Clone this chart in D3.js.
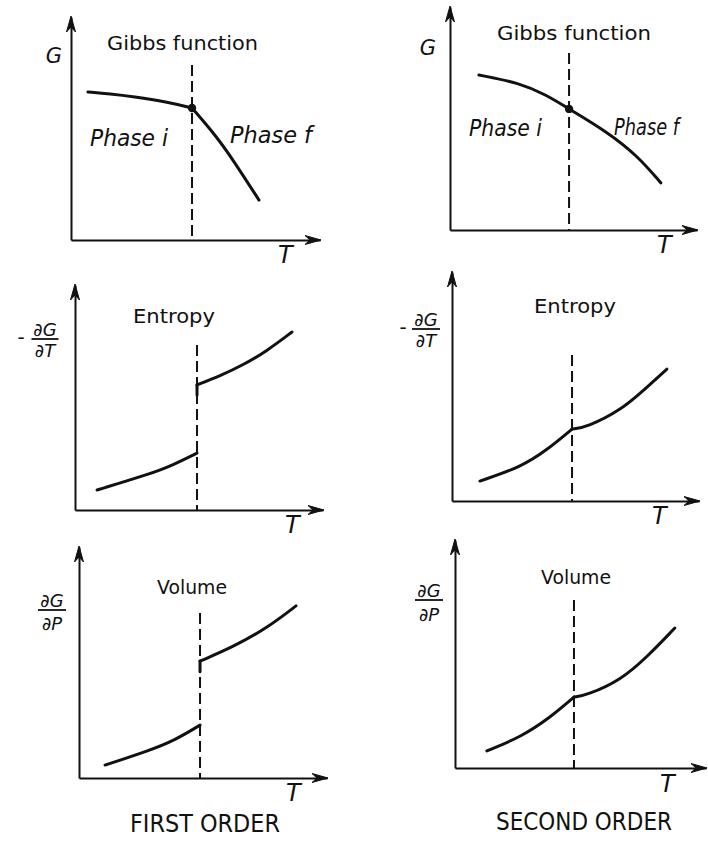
<!DOCTYPE html>
<html>
<head>
<meta charset="utf-8">
<script src="https://cdn.jsdelivr.net/npm/d3@7"></script>
<style>
  html, body { margin: 0; padding: 0; background: #fff; }
  svg { display: block; }
  text { font-family: "DejaVu Sans", sans-serif; fill: #111; }
</style>
</head>
<body>
<svg id="chart" width="708" height="841"></svg>
<script>
// ---------------- data (arbitrary units, 0–10 along each axis) ----------------
const columnLabels = ["FIRST ORDER", "SECOND ORDER"];
const panelTitles = ["Gibbs function", "Gibbs function", "Entropy", "Entropy", "Volume", "Volume"];
const phaseLabels = ["Phase i", "Phase f"];
const xLabel = "T";
// y-axis labels: [sign, numerator, denominator]; a single symbol when no fraction
const yLabels = [["", "G", ""], ["", "G", ""], ["-", "∂G", "∂T"], ["-", "∂G", "∂T"], ["", "∂G", "∂P"], ["", "∂G", "∂P"]];

// transition temperature and top of the dashed marker, per panel
const transitionT = [4.86, 4.82, 4.92, 4.86, 4.88, 4.74];
const transitionTop = [7.85, 7.94, 7.33, 6.38, 7.14, 7.37];

// Gibbs function
const gibbsFirstI  = [[0.68, 6.64], [1.57, 6.55], [2.49, 6.43], [3.86, 6.20], [4.86, 5.92]];
const gibbsFirstF  = [[4.86, 5.92], [5.86, 4.62], [6.51, 3.59], [7.55, 1.79]];
const gibbsSecondI = [[1.17, 6.95], [2.87, 6.58], [3.89, 6.06], [4.82, 5.43]];
const gibbsSecondF = [[4.82, 5.43], [6.36, 4.40], [7.57, 3.35], [8.54, 2.11]];

// entropy  -dG/dT
const entropyFirstI  = [[0.89, 0.89], [3.02, 1.60], [3.95, 2.00], [4.92, 2.53]];
const entropyFirstF  = [[4.92, 5.11], [4.92, 5.56], [5.85, 5.96], [6.77, 6.44], [7.74, 7.07], [8.75, 7.91]];
const entropySecondI = [[1.13, 0.87], [2.79, 1.48], [3.85, 2.23], [4.86, 3.14]];
const entropySecondF = [[4.86, 3.14], [5.47, 3.23], [6.84, 3.97], [7.77, 4.85], [8.70, 5.76]];

// volume  dG/dP
const volumeFirstI  = [[1.05, 0.56], [2.86, 1.20], [3.87, 1.64], [4.88, 2.29]];
const volumeFirstF  = [[4.88, 4.60], [4.88, 5.06], [6.21, 5.67], [7.58, 6.49], [8.75, 7.45]];
const volumeSecondI = [[1.27, 0.75], [2.63, 1.36], [3.82, 2.24], [4.74, 3.11]];
const volumeSecondF = [[4.74, 3.11], [5.26, 3.20], [6.61, 3.86], [7.65, 4.87], [8.76, 6.14]];

const branches = [
  [gibbsFirstI, gibbsFirstF], [gibbsSecondI, gibbsSecondF],
  [entropyFirstI, entropyFirstF], [entropySecondI, entropySecondF],
  [volumeFirstI, volumeFirstF], [volumeSecondI, volumeSecondF]
];

// ---------------- layout ----------------
// axis origin (x0,y0) and arrow tips (x1 along T, y1 along the property axis)
const frames = [
  { x0: 71,  y0: 240, x1: 320, y1: 17 },
  { x0: 450, y0: 230, x1: 697, y1: 7 },
  { x0: 75,  y0: 510, x1: 323, y1: 285 },
  { x0: 452, y0: 501, x1: 699, y1: 272 },
  { x0: 79,  y0: 778, x1: 327, y1: 547 },
  { x0: 455, y0: 768, x1: 706, y1: 540 }
];
const titlePos = [
  { x: 107, y: 50, w: 151 }, { x: 497, y: 40, w: 154 },
  { x: 133, y: 323, w: 82 }, { x: 534, y: 313, w: 82 },
  { x: 157, y: 594, w: 70 }, { x: 541, y: 584, w: 70 }
];
const phasePos = [
  [{ x: 90, y: 146, w: 78 }, { x: 230, y: 143, w: 82 }],
  [{ x: 469, y: 136, w: 73 }, { x: 614, y: 135, w: 65 }]
];
const tPos = [{ x: 278, y: 263 }, { x: 657, y: 253 }, { x: 285, y: 533 },
              { x: 652, y: 524 }, { x: 286, y: 801 }, { x: 660, y: 792 }];
// y label: centre x, numerator baseline, bar y, denominator baseline, sign x, bar width
const yLabPos = [
  { cx: 54, num: 63 }, { cx: 428, num: 55 },
  { cx: 45, num: 336, bar: 339, den: 357, sx: 21, bw: 27 },
  { cx: 426, num: 326, bar: 329, den: 347, sx: 403, bw: 28 },
  { cx: 52, num: 607, bar: 610, den: 630, bw: 28 },
  { cx: 429, num: 597, bar: 600, den: 621, bw: 28 }
];
const columnPos = [{ x: 130, y: 832, w: 150 }, { x: 496, y: 830, w: 176 }];

const svg = d3.select("#chart");
const ink = "#111";

function arrowHead(g, tipX, tipY, dir) {
  // barbed arrowhead; dir "right" or "up"
  const L = 16, W = 4.5, N = 11;
  const pts = dir === "right"
    ? [[tipX, tipY], [tipX - L, tipY - W], [tipX - N, tipY], [tipX - L, tipY + W]]
    : [[tipX, tipY], [tipX - W, tipY + L], [tipX, tipY + N], [tipX + W, tipY + L]];
  g.append("path").attr("d", d3.line()(pts) + "Z").attr("fill", ink).attr("stroke", ink)
    .attr("stroke-width", 1).attr("stroke-linejoin", "round");
}

function drawBranch(g, pts, x, y) {
  let start = 0;
  if (pts.length > 1 && pts[0][0] === pts[1][0]) {
    // vertical step where the curve meets the transition line
    g.append("path")
      .attr("d", d3.line().x(d => x(d[0])).y(d => y(d[1]))(pts.slice(0, 2)))
      .attr("fill", "none").attr("stroke", ink).attr("stroke-width", 3).attr("stroke-linecap", "round");
    start = 1;
  }
  g.append("path")
    .attr("d", d3.line().curve(d3.curveBasis).x(d => x(d[0])).y(d => y(d[1]))(pts.slice(start)))
    .attr("fill", "none").attr("stroke", ink).attr("stroke-width", 3)
    .attr("stroke-linecap", "round").attr("stroke-linejoin", "round");
}

frames.forEach((f, i) => {
  const g = svg.append("g");
  const x = d3.scaleLinear().domain([0, 10]).range([f.x0, f.x1]);
  const y = d3.scaleLinear().domain([0, 10]).range([f.y0, f.y1]);

  // axes (domain lines only) with arrowheads
  const ax = g.append("g").attr("transform", `translate(0,${f.y0})`)
    .call(d3.axisBottom(x).tickValues([]).tickSizeOuter(0));
  const ay = g.append("g").attr("transform", `translate(${f.x0},0)`)
    .call(d3.axisLeft(y).tickValues([]).tickSizeOuter(0));
  [ax, ay].forEach(a => a.select(".domain").attr("stroke", ink).attr("stroke-width", 2));
  arrowHead(g, x(10) + 1, y(0), "right");
  arrowHead(g, x(0), y(10) - 1, "up");

  // transition marker
  const tc = transitionT[i];
  g.append("line")
    .attr("x1", x(tc)).attr("x2", x(tc))
    .attr("y1", y(transitionTop[i])).attr("y2", y(0))
    .attr("stroke", ink).attr("stroke-width", 2).attr("stroke-dasharray", "11,5");

  // phase branches
  branches[i].forEach(b => drawBranch(g, b, x, y));

  // coexistence point on the Gibbs curves
  if (i < 2) {
    const p = branches[i][1][0];
    g.append("circle").attr("cx", x(p[0])).attr("cy", y(p[1])).attr("r", 4.2).attr("fill", ink);
  }

  // title
  const tp = titlePos[i];
  g.append("text").attr("x", tp.x).attr("y", tp.y).attr("font-size", 20)
    .attr("textLength", tp.w).attr("lengthAdjust", "spacingAndGlyphs").text(panelTitles[i]);

  // axis label T
  g.append("text").attr("x", tPos[i].x).attr("y", tPos[i].y).attr("font-size", 24)
    .attr("font-style", "italic").text(xLabel);

  // y label
  const yl = yLabels[i], lp = yLabPos[i];
  if (!yl[2]) {
    g.append("text").attr("x", lp.cx).attr("y", lp.num).attr("font-size", 21)
      .attr("font-style", "italic").attr("text-anchor", "middle").text(yl[1]);
  } else {
    if (yl[0]) {
      g.append("text").attr("x", lp.sx).attr("y", lp.bar + 5).attr("font-size", 20)
        .attr("text-anchor", "middle").text(yl[0]);
    }
    g.append("text").attr("x", lp.cx).attr("y", lp.num).attr("font-size", 18)
      .attr("font-style", "italic").attr("text-anchor", "middle").text(yl[1]);
    g.append("line").attr("x1", lp.cx - lp.bw / 2).attr("x2", lp.cx + lp.bw / 2)
      .attr("y1", lp.bar).attr("y2", lp.bar).attr("stroke", ink).attr("stroke-width", 1.8);
    g.append("text").attr("x", lp.cx).attr("y", lp.den).attr("font-size", 18)
      .attr("font-style", "italic").attr("text-anchor", "middle").text(yl[2]);
  }
});

// phase names on the Gibbs panels
phasePos.forEach(pair => pair.forEach((p, j) => {
  svg.append("text").attr("x", p.x).attr("y", p.y).attr("font-size", 23)
    .attr("font-style", "italic").attr("textLength", p.w).attr("lengthAdjust", "spacingAndGlyphs")
    .text(phaseLabels[j]);
}));

// column captions
columnPos.forEach((c, k) => {
  svg.append("text").attr("x", c.x).attr("y", c.y).attr("font-size", 24)
    .attr("textLength", c.w).attr("lengthAdjust", "spacingAndGlyphs").text(columnLabels[k]);
});
</script>
</body>
</html>
